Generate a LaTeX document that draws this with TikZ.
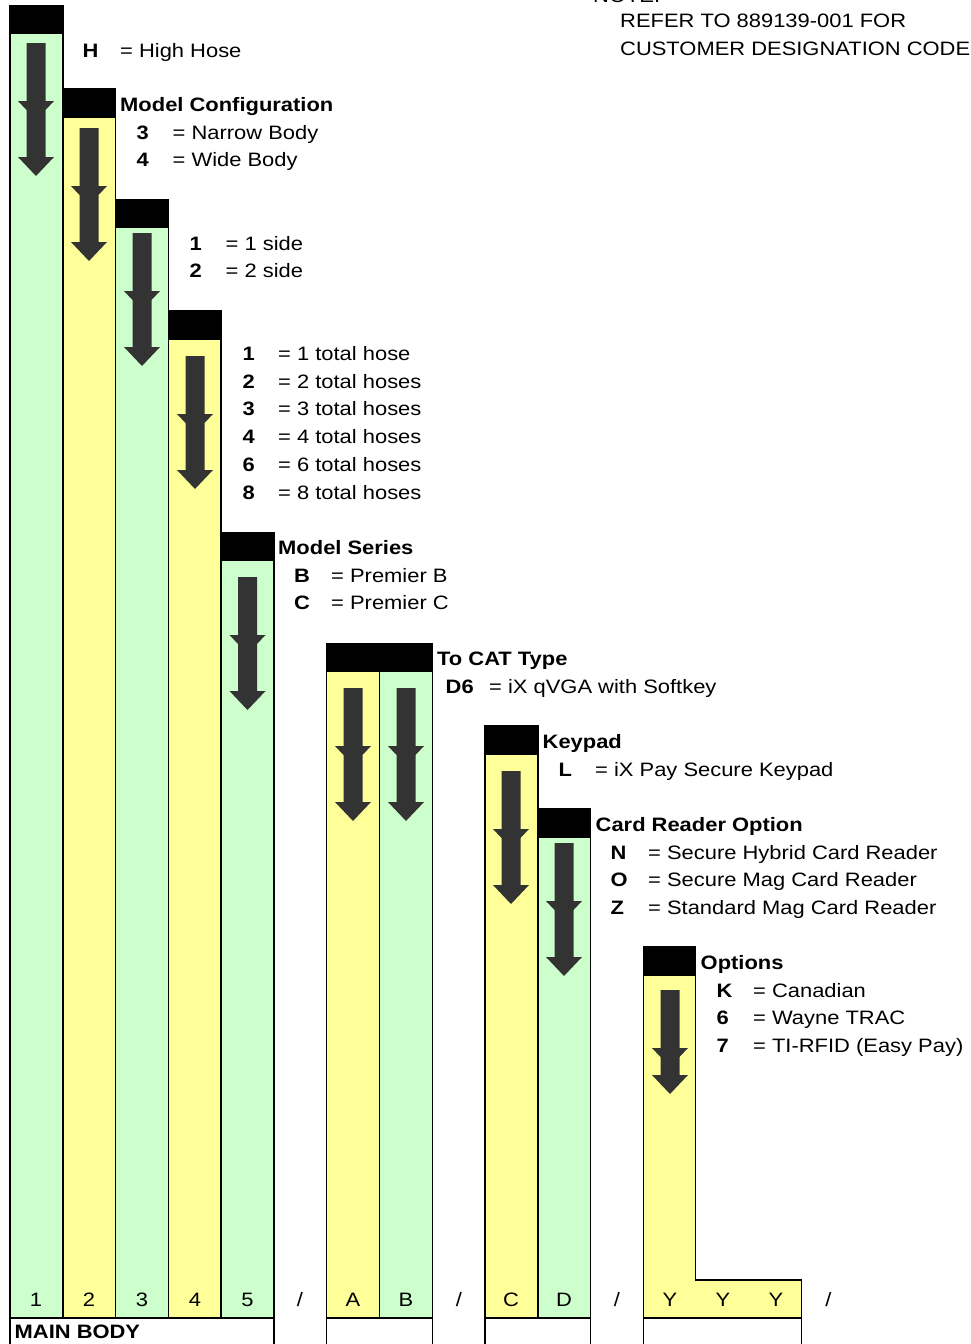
\documentclass[tikz,border=0pt]{standalone}
\usepackage{fontspec}
\setmainfont[FakeStretch=1.13]{Liberation Sans}
\definecolor{cg}{HTML}{CCFFCC}
\definecolor{cy}{HTML}{FFFF99}
\definecolor{ca}{HTML}{333333}
\newcommand\fsz{\fontsize{19.4}{22}\selectfont}
\tikzset{
  colbox/.style={draw=black, line width=1.5pt, inner sep=0pt, outer sep=0pt, anchor=north west, minimum width=52.8pt},
  hdr/.style={fill=black, draw=black, line width=1.5pt, inner sep=0pt, outer sep=0pt, anchor=north west, minimum height=27.5pt, minimum width=52.8pt},
  lbl/.style={font=\fsz, inner sep=0pt, anchor=base west},
  key/.style={font=\fsz\bfseries, inner sep=0pt, anchor=base west},
  num/.style={font=\fsz, inner sep=0pt, anchor=base},
  arrowfill/.style={fill=ca},
  pics/darrow/.style={code={
    \fill[arrowfill] (-9.5,0) -- (9.5,0) -- (9.5,58) -- (18,58) -- (9.5,67) -- (9.5,#1-19) -- (18,#1-19) -- (0,#1)
      -- (-18,#1-19) -- (-9.5,#1-19) -- (-9.5,67) -- (-18,58) -- (-9.5,58) -- cycle;
  }}
}
\begin{document}
\begin{tikzpicture}[x=1pt,y=-1pt]
\useasboundingbox (0,0) rectangle (970,1344);
\clip (0,0) rectangle (970,1344);
\fill[white] (0,0) rectangle (970,1344);
% column bodies
\node[colbox, fill=cg, minimum height=1284.5pt] (c1) at (10,33.5) {};
\node[colbox, fill=cy, minimum height=1201pt] (c2) at (62.8,117) {};
\node[colbox, fill=cg, minimum height=1090.5pt] (c3) at (115.6,227.5) {};
\node[colbox, fill=cy, minimum height=979pt] (c4) at (168.4,339) {};
\node[colbox, fill=cg, minimum height=758pt] (c5) at (221.2,560) {};
\node[colbox, fill=cy, minimum height=647pt] (cA) at (326.7,671) {};
\node[colbox, fill=cg, minimum height=647pt] (cB) at (379.5,671) {};
\node[colbox, fill=cy, minimum height=564pt] (cC) at (485,754) {};
\node[colbox, fill=cg, minimum height=481pt] (cD) at (537.8,837) {};
\coordinate (y1) at (643.3,975);
\coordinate (y2) at (695.7,1280);
\coordinate (y3) at (801.7,1318);
\draw[line width=1.5pt, fill=cy] (y1) -| (y2) -| (y3) -| cycle;
% bottom boxes
\node[colbox, fill=white, minimum width=264pt, minimum height=50pt] (mb) at (10,1318) {};
\node[colbox, fill=white, minimum width=105.6pt, minimum height=50pt] (bAB) at (326.7,1318) {};
\node[colbox, fill=white, minimum width=105.6pt, minimum height=50pt] (bCD) at (485,1318) {};
\node[colbox, fill=white, minimum width=158.4pt, minimum height=50pt] (bY) at (643.3,1318) {};
% headers
\node[hdr] (h1) at (10,6) {};
\node[hdr] (h2) at (62.8,89) {};
\node[hdr] (h3) at (115.6,200) {};
\node[hdr] (h4) at (168.4,311) {};
\node[hdr] (h5) at (221.2,532.5) {};
\node[hdr, minimum width=105.6pt] (hAB) at (326.7,643.5) {};
\node[hdr] (hC) at (485,726) {};
\node[hdr] (hD) at (537.8,809) {};
\node[hdr, minimum width=52.4pt] (hY) at (643.3,947) {};
% arrows
\pic at (36,43) {darrow=133};
\pic at (89,128) {darrow=133};
\pic at (142,233) {darrow=133};
\pic at (195,356) {darrow=133};
\pic at (247.5,577) {darrow=133};
\pic at (353,688) {darrow=133};
\pic at (406,688) {darrow=133};
\pic at (511,771) {darrow=133};
\pic at (564,843) {darrow=133};
\pic at (670,990) {darrow=104};
% note
\node[lbl] (n0) at (593,2.5) {NOTE:};
\node[lbl] (n1) at (620,27) {REFER TO 889139-001 FOR};
\node[lbl] (n2) at (620,55) {CUSTOMER DESIGNATION CODE};
% column 1
\node[key] (k1) at (82.5,57) {H};
\node[lbl] (v1) at (120,57) {= High Hose};
% column 2
\node[key] (t2) at (120,111.5) {Model Configuration};
\node[key] (k2a) at (136.5,139) {3};
\node[lbl] (v2a) at (172.5,139) {= Narrow Body};
\node[key] (k2b) at (136.5,166.7) {4};
\node[lbl] (v2b) at (172.5,166.7) {= Wide Body};
% column 3
\node[key] (k3a) at (189.5,250) {1};
\node[lbl] (v3a) at (225.5,250) {= 1 side};
\node[key] (k3b) at (189.5,277.7) {2};
\node[lbl] (v3b) at (225.5,277.7) {= 2 side};
% column 4
\node[key] (k4a) at (242.5,360.5) {1};
\node[lbl] (v4a) at (278,360.5) {= 1 total hose};
\node[key] (k4b) at (242.5,388.2) {2};
\node[lbl] (v4b) at (278,388.2) {= 2 total hoses};
\node[key] (k4c) at (242.5,415.9) {3};
\node[lbl] (v4c) at (278,415.9) {= 3 total hoses};
\node[key] (k4d) at (242.5,443.6) {4};
\node[lbl] (v4d) at (278,443.6) {= 4 total hoses};
\node[key] (k4e) at (242.5,471.3) {6};
\node[lbl] (v4e) at (278,471.3) {= 6 total hoses};
\node[key] (k4f) at (242.5,499) {8};
\node[lbl] (v4f) at (278,499) {= 8 total hoses};
% column 5
\node[key] (t5) at (278,554) {Model Series};
\node[key] (k5a) at (294,582) {B};
\node[lbl] (v5a) at (331,582) {= Premier B};
\node[key] (k5b) at (294,609.5) {C};
\node[lbl] (v5b) at (331,609.5) {= Premier C};
% AB
\node[key] (tAB) at (437,665) {To CAT Type};
\node[key] (kAB) at (445.5,693) {D6};
\node[lbl] (vAB) at (489,693) {= iX qVGA with Softkey};
% C
\node[key] (tC) at (542.5,748) {Keypad};
\node[key] (kC) at (558.5,776) {L};
\node[lbl] (vC) at (595,776) {= iX Pay Secure Keypad};
% D
\node[key] (tD) at (595.5,831.5) {Card Reader Option};
\node[key] (kDa) at (610.5,859) {N};
\node[lbl] (vDa) at (648,859) {= Secure Hybrid Card Reader};
\node[key] (kDb) at (610.5,886.5) {O};
\node[lbl] (vDb) at (648,886.5) {= Secure Mag Card Reader};
\node[key] (kDc) at (610.5,914) {Z};
\node[lbl] (vDc) at (648,914) {= Standard Mag Card Reader};
% Y
\node[key] (tY) at (700.5,969.5) {Options};
\node[key] (kYa) at (716.5,997) {K};
\node[lbl] (vYa) at (753,997) {= Canadian};
\node[key] (kYb) at (716.5,1024.5) {6};
\node[lbl] (vYb) at (753,1024.5) {= Wayne TRAC};
\node[key] (kYc) at (716.5,1052) {7};
\node[lbl] (vYc) at (753,1052) {= TI-RFID (Easy Pay)};
% bottom row
\node[num] (b1) at (36,1306.5) {1};
\node[num] (b2) at (89,1306.5) {2};
\node[num] (b3) at (142,1306.5) {3};
\node[num] (b4) at (195,1306.5) {4};
\node[num] (b5) at (247.5,1306.5) {5};
\node[num] (s1) at (300,1306.5) {/};
\node[num] (bA) at (353,1306.5) {A};
\node[num] (bB) at (406,1306.5) {B};
\node[num] (s2) at (459,1306.5) {/};
\node[num] (bC) at (511,1306.5) {C};
\node[num] (bD) at (564,1306.5) {D};
\node[num] (s3) at (617,1306.5) {/};
\node[num] (bY1) at (670,1306.5) {Y};
\node[num] (bY2) at (723,1306.5) {Y};
\node[num] (bY3) at (776,1306.5) {Y};
\node[num] (s4) at (828.5,1306.5) {/};
\node[key] (mbt) at (14.5,1338.5) {MAIN BODY};
\end{tikzpicture}
\end{document}
